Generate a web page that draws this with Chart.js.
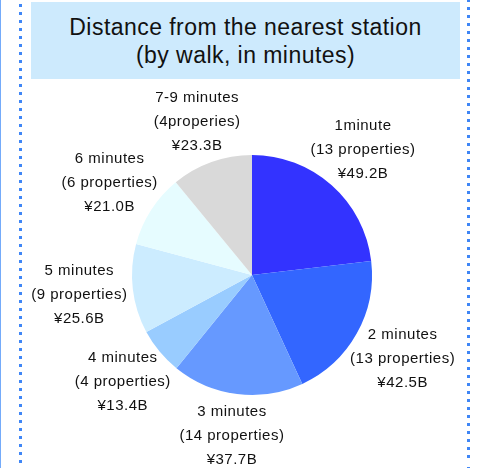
<!DOCTYPE html>
<html>
<head>
<meta charset="utf-8">
<script src="https://cdn.jsdelivr.net/npm/chart.js@4/dist/chart.umd.min.js"></script>
<style>
  html, body { margin: 0; padding: 0; background: #fff; }
  #page { position: relative; width: 482px; height: 468px; overflow: hidden; }
  #edge { position: absolute; left: 0; top: 0; width: 1px; height: 468px; background: #74abfa; }
  .dots { position: absolute; top: 0; width: 3px; height: 468px;
          background: repeating-linear-gradient(to bottom, transparent 0 4px, #3f86f6 4px 7px, transparent 7px 8px); }
  #dotsL { left: 19px; }
  #dotsR { left: 467px; background-position: 0 -5px; }
  #titleBox { position: absolute; left: 31px; top: 2px; width: 429px; height: 77px; background: #cdeafd;
              font-family: "Liberation Sans", Arial, sans-serif; font-size: 23px; letter-spacing: 0.45px;
              line-height: 28px; color: #111; text-align: center; box-sizing: border-box; padding-top: 11px; }
  #chart { position: absolute; left: 0; top: 0; }
</style>
</head>
<body>
<div id="page">
  <div id="edge"></div>
  <div class="dots" id="dotsL"></div>
  <div class="dots" id="dotsR"></div>
  <div id="titleBox">Distance from the nearest station<br>(by walk, in minutes)</div>
  <canvas id="chart" width="482" height="468"></canvas>
</div>
<script>
// Walking distance buckets, property counts and total value (billion yen)
const categories = ['1minute', '2 minutes', '3 minutes', '4 minutes', '5 minutes', '6 minutes', '7-9 minutes'];
const propertyLabels = ['(13 properties)', '(13 properties)', '(14 properties)', '(4 properties)', '(9 properties)', '(6 properties)', '(4properies)'];
const values = [49.2, 42.5, 37.7, 13.4, 25.6, 21.0, 23.3];
const sliceColors = ['#3333ff', '#3366ff', '#6699ff', '#99ccff', '#ccecff', '#e6fcff', '#d9d9d9'];

const valueLabel = v => '\u00a5' + v.toFixed(1) + 'B';

// Three-line captions placed outside each slice, along its middle angle
const outerLabels = {
  id: 'outerLabels',
  afterDatasetsDraw(chart) {
    const ctx = chart.ctx;
    const meta = chart.getDatasetMeta(0);
    const lineH = 24;
    const gap = 6;
    ctx.save();
    ctx.font = '15px "Liberation Sans", Arial, sans-serif';
    if ('letterSpacing' in ctx) ctx.letterSpacing = '0.5px';
    ctx.fillStyle = '#111';
    ctx.textAlign = 'center';
    ctx.textBaseline = 'middle';
    meta.data.forEach((arc, i) => {
      const lines = [categories[i], propertyLabels[i], valueLabel(values[i])];
      const hw = Math.max(...lines.map(t => ctx.measureText(t).width)) / 2;
      const hh = lines.length * lineH / 2;
      const mid = (arc.startAngle + arc.endAngle) / 2;
      const dx = Math.cos(mid), dy = Math.sin(mid);
      const ext = 1 / Math.sqrt((dx / hw) ** 2 + (dy / hh) ** 2);
      const d = arc.outerRadius + gap + ext;
      const cx = arc.x + dx * d;
      const cy = arc.y + dy * d;
      lines.forEach((t, k) => {
        ctx.fillText(t, cx, cy + (k - (lines.length - 1) / 2) * lineH);
      });
    });
    ctx.restore();
  }
};

new Chart(document.getElementById('chart'), {
  type: 'pie',
  data: {
    labels: categories,
    datasets: [{
      data: values,
      backgroundColor: sliceColors,
      borderWidth: 0
    }]
  },
  options: {
    responsive: false,
    animation: false,
    layout: { padding: { left: 132, right: 110, top: 155, bottom: 73 } },
    plugins: {
      legend: { display: false },
      tooltip: { enabled: false },
      title: { display: false }
    }
  },
  plugins: [outerLabels]
});
</script>
</body>
</html>
